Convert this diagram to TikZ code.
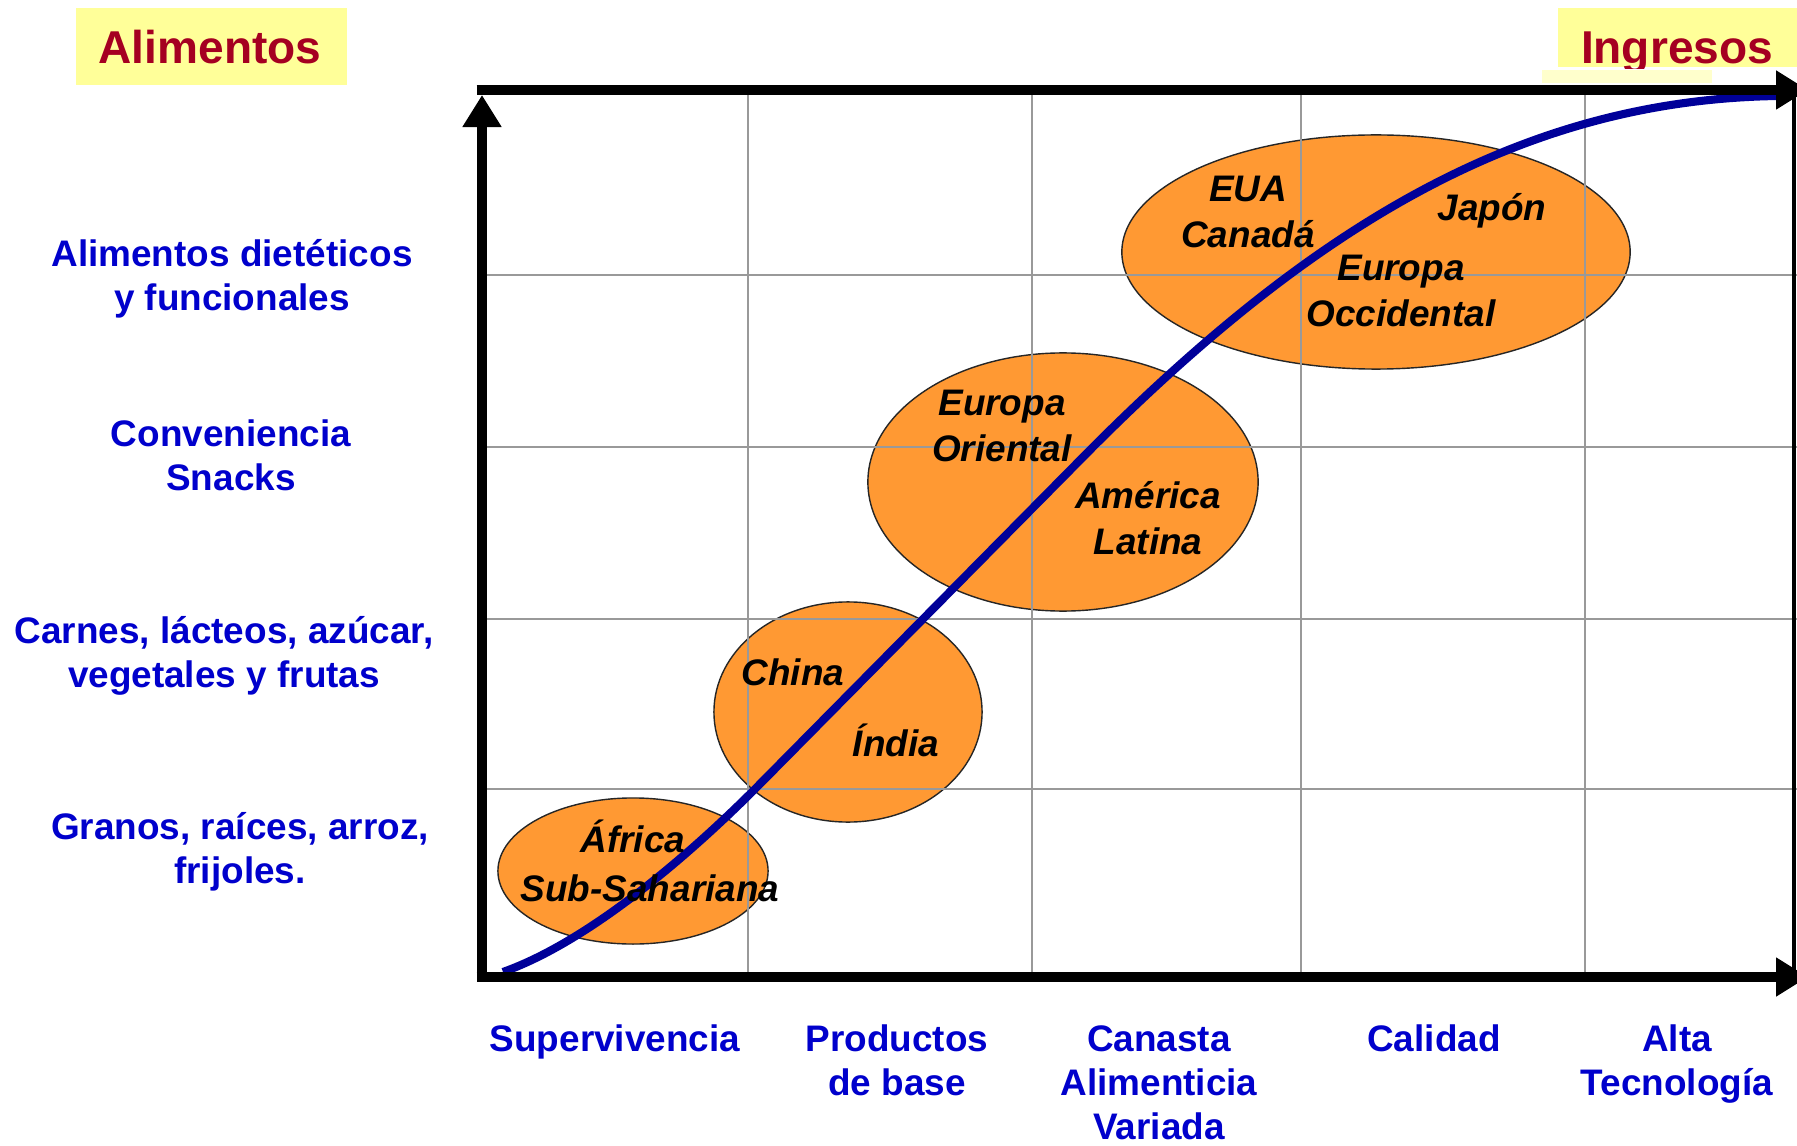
\documentclass[tikz,border=0pt]{standalone}
\usepackage{fontspec}
\setmainfont{Liberation Sans}
\usetikzlibrary{shapes.geometric,arrows.meta}
\definecolor{foodblue}{HTML}{0000CC}
\definecolor{titlered}{HTML}{A50021}
\definecolor{titleyellow}{HTML}{FFFF99}
\definecolor{paleyellow}{HTML}{FFFFCC}
\definecolor{regionorange}{HTML}{FF9933}
\definecolor{curvenavy}{HTML}{000099}

\begin{document}
\begin{tikzpicture}[x=0.01cm,y=-0.01cm,
	axis/.style={black, line width=3.1pt},
	axistip/.style={-{Triangle[length=0.32cm, width=0.37cm]}},
	gridline/.style={black!40, line width=0.6pt},
	region/.style={ellipse, draw=black!85, line width=0.4pt, fill=regionorange, inner sep=0pt},
	country/.style={font=\fontsize{10.5}{13}\selectfont\bfseries\itshape, align=center, inner sep=0pt},
	foodlabel/.style={text=foodblue, font=\fontsize{10.5}{12.5}\selectfont\bfseries, align=center, inner sep=0pt},
	titletext/.style={text=titlered, font=\fontsize{13.1}{15}\selectfont\bfseries, inner sep=0pt}]
\useasboundingbox (0,0) rectangle (1797,1146);
\fill[white] (0,0) rectangle (1797,1146);

% titles
\node[fill=titleyellow, minimum width=2.71cm, minimum height=0.77cm, inner sep=0pt] (foodbox) at (211.5,46.5) {};
\node[titletext] (food) at (210,47) {Alimentos};
\fill[titleyellow] (1558,8) rectangle (1797,67);
\fill[paleyellow] (1542,70) rectangle (1712,83);
\begin{scope}
\clip (1558,8) rectangle (1797,69);
\node[titletext] (income) at (1677,53) {Ingresos};
\end{scope}

% regions
\node[region, minimum width=2.70cm, minimum height=1.46cm] (africa) at (633,871) {};
\node[region, minimum width=2.68cm, minimum height=2.20cm] (asia) at (848,712) {};
\node[region, minimum width=3.90cm, minimum height=2.58cm] (middle) at (1063,482) {};
\node[region, minimum width=5.08cm, minimum height=2.34cm] (north) at (1376,252) {};

% grid
\foreach \gx in {748,1032,1301,1585}{
	\draw[gridline] (\gx,90) -- (\gx,977);
}
\foreach \gy in {275,447,619,789}{
	\draw[gridline] (482,\gy) -- (1797,\gy);
}

% curve
\draw[curvenavy, line width=2.3pt] (503,972) .. controls (593,940) and (695,849) .. (755,789)
	-- (1093,447) .. controls (1320,220) and (1527,100) .. (1777,96);

% axes
\coordinate (origin) at (482,977);
\coordinate (ytip) at (482,95);
\coordinate (xtoptip) at (1808,90);
\coordinate (xtip) at (1808,977);
\draw[axis, axistip] (origin) -- (ytip);
\draw[axis, axistip] (476.5,90) -- (xtoptip);
\draw[axis, axistip] (476.5,977) -- (xtip);
\draw[black, line width=1.4pt] (1794,90) -- (1794,977);

% countries
\node[country] (africa1) at (633,836) {África};
\node[country] (africa2) at (650,888) {Sub-Sahariana};
\node[country] (china) at (793,672) {China};
\node[country] (india) at (896,740) {Índia};
\node[country] (easteur) at (1002,426) {Europa\\Oriental};
\node[country] (latam) at (1148,518) {América\\Latina};
\node[country] (usa) at (1248,212) {EUA\\Canadá};
\node[country] (japan) at (1492,211) {Japón};
\node[country] (westeur) at (1401,291) {Europa\\Occidental};

% food levels
\node[foodlabel] (dietetic) at (232,279) {Alimentos dietéticos\\y funcionales};
\node[foodlabel] (convenience) at (231,455) {Conveniencia\\Snacks};
\node[foodlabel] (meat) at (224,656) {Carnes, lácteos, azúcar,\\vegetales y frutas};
\node[foodlabel] (grains) at (240,852) {Granos, raíces, arroz,\\frijoles.};

% income levels
\node[foodlabel] (survival) at (615,1042) {Supervivencia};
\node[foodlabel] (staples) at (897,1060) {Productos\\de base};
\node[foodlabel] (basket) at (1159,1083) {Canasta\\Alimenticia\\Variada};
\node[foodlabel] (quality) at (1434,1038) {Calidad};
\node[foodlabel] (hightech) at (1677,1064) {Alta\\Tecnología};
\end{tikzpicture}
\end{document}
